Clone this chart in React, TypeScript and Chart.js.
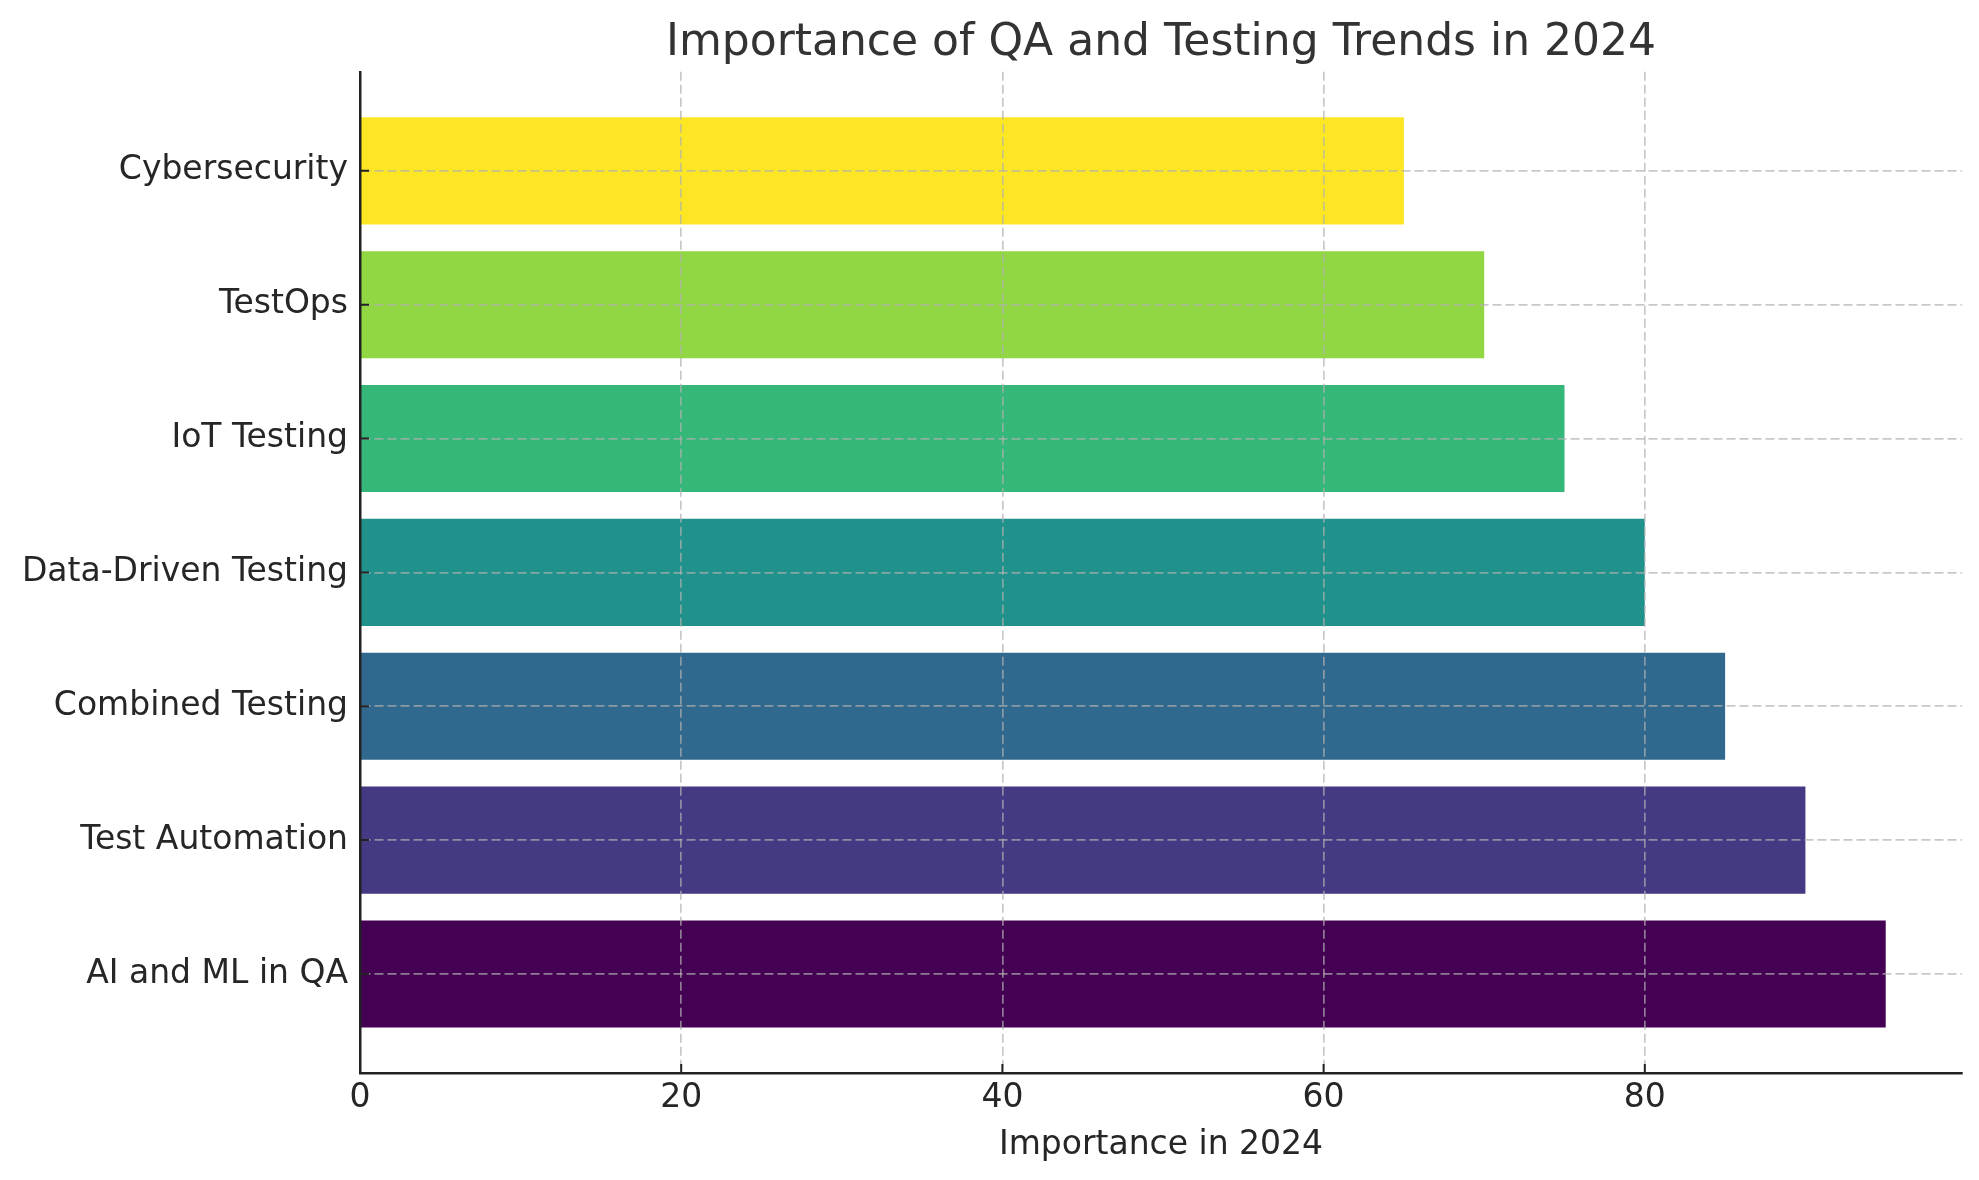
import { useEffect, useRef } from 'react';
import { Chart, registerables } from 'chart.js';

Chart.register(...registerables);

// bottom to top, same order as the bars
const categories = [
    'AI and ML in QA',
    'Test Automation',
    'Combined Testing',
    'Data-Driven Testing',
    'IoT Testing',
    'TestOps',
    'Cybersecurity',
];
const importance = [95, 90, 85, 80, 75, 70, 65];
const barColors = ['#440154', '#443983', '#31688e', '#21918c', '#35b779', '#90d743', '#fde725'];
const xTicks = [0, 20, 40, 60, 80];

const FONT = "'DejaVu Sans', sans-serif";
const TEXT = '#262626';

// matplotlib style ticks pointing into the plot
const inwardTicks = {
    id: 'inwardTicks',
    afterDraw(chart: any) {
        const { ctx, chartArea, scales } = chart;
        ctx.save();
        ctx.strokeStyle = '#222';
        ctx.lineWidth = 2;
        ctx.beginPath();
        xTicks.forEach((v) => {
            const px = scales.x.getPixelForValue(v);
            ctx.moveTo(px, chartArea.bottom);
            ctx.lineTo(px, chartArea.bottom - 9);
        });
        categories.forEach((_, i) => {
            const py = scales.y.getPixelForValue(i);
            ctx.moveTo(chartArea.left, py);
            ctx.lineTo(chartArea.left + 9, py);
        });
        ctx.stroke();
        ctx.restore();
    },
};

const App = () => {
    const chartRef = useRef<HTMLCanvasElement>(null);

    useEffect(() => {
        let myChart: any = null;

        if (chartRef.current) {
            myChart = new Chart(chartRef.current, {
                type: 'bar',
                data: {
                    datasets: [{
                        label: 'Importance in 2024',
                        data: importance.map((v, i) => ({ x: v, y: i })),
                        backgroundColor: barColors,
                        borderWidth: 0,
                        barPercentage: 0.8,
                        categoryPercentage: 1,
                    }],
                },
                options: {
                    indexAxis: 'y',
                    animation: false,
                    responsive: true,
                    maintainAspectRatio: false,
                    layout: { padding: { left: 0, right: 17, top: 0, bottom: 0 } },
                    plugins: {
                        legend: { display: false },
                        tooltip: { enabled: false },
                        title: {
                            display: true,
                            text: 'Importance of QA and Testing Trends in 2024',
                            fullSize: false,
                            color: '#333333',
                            font: { family: FONT, size: 44, weight: 'normal', lineHeight: 1.2 },
                            padding: { top: 17, bottom: 2 },
                        },
                    },
                    scales: {
                        x: {
                            type: 'linear',
                            min: 0,
                            max: 99.75,
                            afterBuildTicks: (s: any) => { s.ticks = xTicks.map((value) => ({ value })); },
                            afterFit: (s: any) => { s.height = 107; },
                            ticks: {
                                color: TEXT,
                                padding: 6,
                                font: { family: FONT, size: 33 },
                            },
                            grid: {
                                color: 'rgba(176,176,176,0.7)',
                                lineWidth: 1.7,
                                drawTicks: false,
                                z: 1,
                            },
                            border: { display: true, color: '#222', width: 2.5, dash: [9, 4], z: 2 },
                            title: {
                                display: true,
                                text: 'Importance in 2024',
                                color: TEXT,
                                font: { family: FONT, size: 33, lineHeight: 1.2 },
                                padding: { top: 0, bottom: 15 },
                            },
                        },
                        y: {
                            type: 'linear',
                            min: -0.74,
                            max: 6.74,
                            offset: false,
                            afterBuildTicks: (s: any) => { s.ticks = categories.map((_, i) => ({ value: i })); },
                            afterFit: (s: any) => { s.width = 360; },
                            ticks: {
                                color: TEXT,
                                padding: 12,
                                font: { family: FONT, size: 33 },
                                callback: (value: any) => categories[value] ?? '',
                            },
                            grid: {
                                color: 'rgba(176,176,176,0.7)',
                                lineWidth: 1.7,
                                drawTicks: false,
                                offset: false,
                                z: 1,
                            },
                            border: { display: true, color: '#222', width: 2.5, dash: [9, 4], z: 2 },
                        },
                    },
                },
                plugins: [inwardTicks],
            });
        }

        return () => {
            if (myChart) {
                myChart.destroy();
            }
        };
    }, []);

    return (
        <div style={{ position: 'fixed', left: 0, top: 0, width: 1979, height: 1180, background: '#fff' }}>
            <canvas ref={chartRef}></canvas>
        </div>
    );
};

export default App;
